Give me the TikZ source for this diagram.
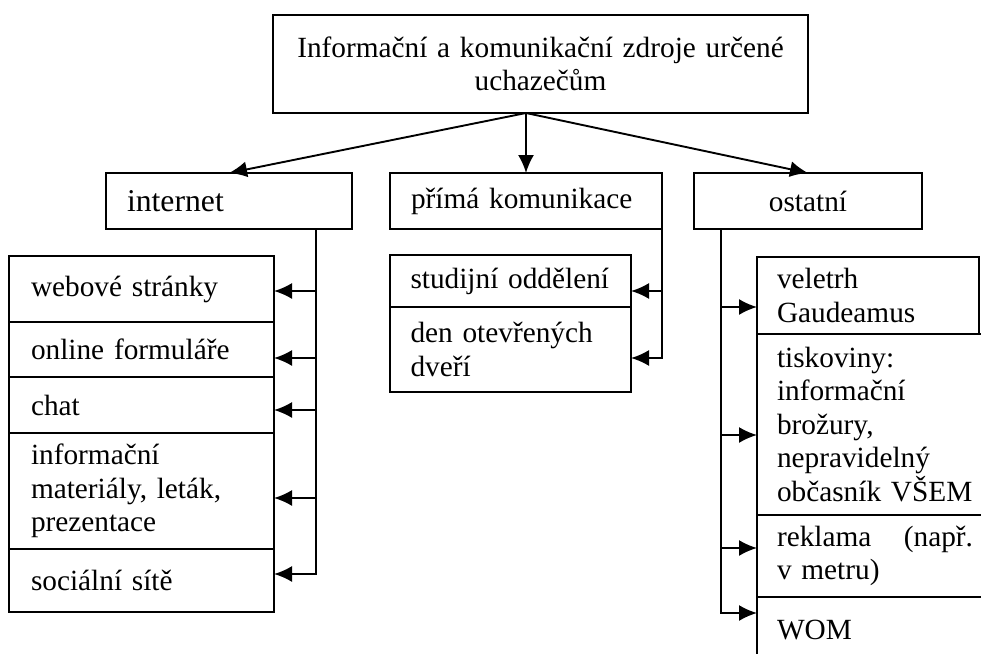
\documentclass[tikz,border=0pt]{standalone}
\usepackage{fontspec}
\setmainfont{Liberation Serif}
\usetikzlibrary{arrows.meta,positioning,calc}

\begin{document}
\begin{tikzpicture}[
    x=1pt, y=-1pt,
    box/.style={draw, line width=1.9pt, outer sep=0pt, inner ysep=0pt,
                font=\fontsize{29.3}{33.5}\selectfont, align=left},
    leftitem/.style={box, text width=221pt, inner xsep=22pt},
    miditem/.style={box, text width=200pt, inner xsep=20.5pt},
    rightitem/.style={box, text width=196pt, inner xsep=20pt},
    arr/.style={-{Latex[length=18pt,width=16pt]}, line width=1.9pt},
    trunk/.style={line width=1.9pt, line cap=rect}
]
\clip (0,0) rectangle (981,653);

% Top
\node[box, text width=490pt, inner xsep=22.5pt, align=center, minimum height=98pt] (title) at (540.5,64)
    {Informační a komunikační zdroje určené\\uchazečům};

% Second level
\node[box, text width=204pt, inner xsep=21pt, minimum height=56pt,
      font=\fontsize{31.7}{36}\selectfont] (internet) at (229,201) {internet};
\node[box, text width=230pt, inner xsep=21pt, minimum height=56pt, right=38pt of internet] (prima) {přímá komunikace};
\node[box, text width=186pt, inner xsep=21pt, minimum height=56pt, align=center, right=32pt of prima] (ostatni) {ostatní};

% Arrows from top
\draw[arr] (title.south -| prima.north) -- (internet.north);
\draw[arr] (title.south -| prima.north) -- (prima.north);
\draw[arr] (title.south -| prima.north) -- (ostatni.north);

% Internet column
\node[leftitem, minimum height=66pt, anchor=north west] (web) at (9,256) {webové stránky};
\node[leftitem, minimum height=55pt, below=0pt of web]   (form)   {online formuláře};
\node[leftitem, minimum height=56pt, below=0pt of form]  (chat)   {chat};
\node[leftitem, minimum height=116pt, below=0pt of chat] (mater)  {informační\\materiály, leták,\\prezentace};
\node[leftitem, minimum height=63pt, below=0pt of mater] (social) {sociální sítě};

\coordinate (tL) at ($(internet.south east)+(-36,0)$);
\draw[trunk] (tL) -- ($(tL |- social.east)+(0,-6.5)$);
\foreach \n/\d in {web/2,form/8.5,chat/5,mater/7,social/-6.5}
    \draw[arr] ($(tL |- \n.east)+(0,\d)$) -- ($(\n.east)+(0,\d)$);

% Direct communication column
\node[miditem, minimum height=52pt, below=26pt of prima.south west, anchor=north west] (stud) {studijní oddělení};
\node[miditem, minimum height=85pt, below=0pt of stud] (den) {den otevřených\\dveří};

\coordinate (tM) at (prima.south east);
\draw[trunk] (tM) -- ($(tM |- den.east)+(0,8.5)$);
\foreach \n/\d in {stud/10,den/8.5}
    \draw[arr] ($(tM |- \n.east)+(0,\d)$) -- ($(\n.east)+(0,\d)$);

% Other column
\coordinate (tR) at ($(ostatni.south west)+(27,0)$);
\node[box, text width=182pt, inner xsep=20pt, minimum height=77pt, anchor=north west] (veletrh) at ($(tR)+(36,28)$) {veletrh\\Gaudeamus};
\node[rightitem, minimum height=181pt, below=0pt of veletrh.south west, anchor=north west] (tisk)
    {tiskoviny:\\informační\\brožury,\\nepravidelný\\občasník VŠEM};
\node[rightitem, minimum height=82pt, below=0pt of tisk]    (reklama) {reklama\hfill(např.\\v metru)};
\node[rightitem, minimum height=66pt, below=0pt of reklama] (wom)     {WOM};

\draw[trunk] (tR) -- ($(tR |- wom.west)+(0,-17)$);
\foreach \n/\d in {veletrh/11.5,tisk/10.5,reklama/-8,wom/-17}
    \draw[arr] ($(tR |- \n.west)+(0,\d)$) -- ($(\n.west)+(0,\d)$);

\end{tikzpicture}
\end{document}
